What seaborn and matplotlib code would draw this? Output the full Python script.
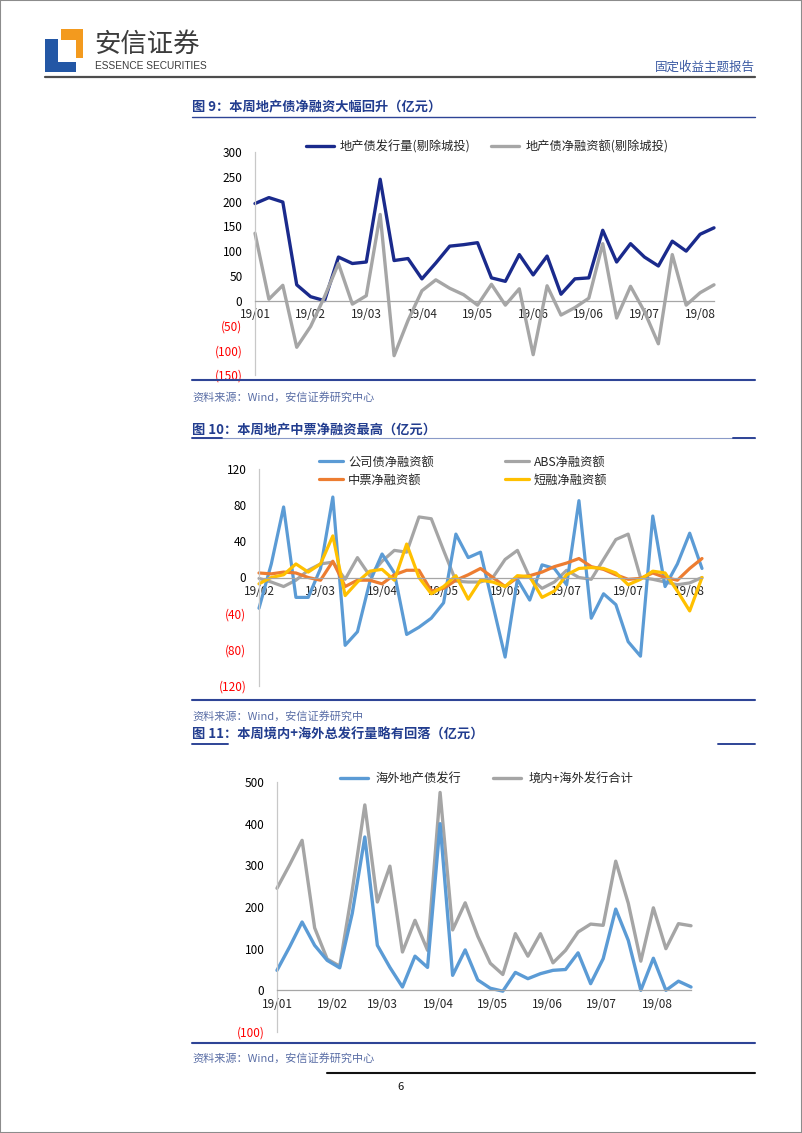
import numpy as np
import pandas as pd
import seaborn as sns
import matplotlib.pyplot as plt
import matplotlib.dates as mdates
from matplotlib.lines import Line2D
from matplotlib.patches import Rectangle
from matplotlib.ticker import FuncFormatter

# ---- 图9 data (weekly, labels every 4 weeks)
c1_ticks = ['19/01', '19/02', '19/03', '19/04', '19/05', '19/06', '19/06', '19/07', '19/08']
c1_issue = [196, 208, 199, 32, 8, 0, 88, 75, 78, 245, 81, 85, 44, 76, 110, 113, 117,
            46, 39, 93, 52, 90, 13, 44, 46, 142, 78, 115, 88, 70, 120, 100, 134, 147]
c1_net = [136, 3, 31, -94, -52, 8, 75, -7, 10, 174, -111, -40, 20, 42, 25, 12, -9,
          33, -9, 24, -109, 30, -29, -14, 5, 115, -35, 29, -22, -87, 93, -9, 16, 32]

# ---- 图10 data (weekly, labels every 5 weeks)
c2_ticks = ['19/02', '19/03', '19/04', '19/05', '19/06', '19/07', '19/07', '19/08']
c2_corp = [-34, 15, 78, -22, -22, 10, 89, -75, -60, -5, 26, 5, -63, -55, -45, -28, 48, 22, 28,
           -30, -88, -2, -25, 14, 10, -8, 85, -45, -18, -30, -71, -87, 68, -10, 15, 49, 10]
c2_abs = [-1, -5, -10, -3, 8, 15, 17, -2, 22, 2, 18, 30, 28, 67, 65, 30, -4, -5, -5,
          0, 20, 30, 0, -12, -5, 8, 0, -2, 20, 42, 48, 0, -2, -5, -8, -6, 0]
c2_mtn = [5, 4, 6, 5, 0, -3, 18, -10, -3, -3, -7, 3, 8, 8, -15, -12, -3, 3, 10,
          0, -10, 0, 2, 6, 12, 16, 21, 12, 9, 3, -2, -1, 5, 0, -3, 10, 21]
c2_cp = [-7, 0, 3, 15, 6, 15, 46, -20, -5, 7, 9, -3, 37, 0, -18, -10, 2, -24, -3,
         -5, -10, 2, 1, -22, -15, 3, 10, 11, 10, 5, -8, -2, 7, 5, -15, -37, 0]

# ---- 图11 data (weekly dates, monthly axis)
c3_start = '2019-01-01'
c3_overseas = [48, 104, 164, 108, 72, 54, 185, 368, 108, 55, 8, 82, 55, 400, 36, 97, 25,
               5, -2, 43, 28, 40, 48, 50, 90, 16, 76, 195, 120, 0, 77, 0, 22, 8]
c3_total = [245, 301, 360, 150, 75, 58, 240, 445, 212, 298, 92, 168, 96, 475, 145, 210, 130,
            65, 38, 136, 82, 136, 66, 96, 140, 159, 156, 310, 209, 70, 198, 100, 160, 155]

W, H = 802, 1133
TITLE_BLUE = '#223d8f'
RULE_BLUE = '#2e4496'
SRC_BLUE = '#5a6ea6'

sns.set_style('white')
plt.rcParams['font.family'] = ['Noto Sans CJK SC', 'DejaVu Sans']
plt.rcParams['axes.unicode_minus'] = False


def box(l, t, r, b):
    return [l / W, 1 - b / H, (r - l) / W, (b - t) / H]


def hline(fig, y, x0, x1, color, lw):
    fig.add_artist(Line2D([x0 / W, x1 / W], [1 - y / H, 1 - y / H], color=color, lw=lw))


def text(fig, x, y, s, **kw):
    fig.text(x / W, 1 - y / H, s, va='center', **kw)


def paren(v, pos):
    return f'({abs(v):.0f})' if v < 0 else f'{v:.0f}'


def style_axes(ax, yticks):
    ax.set_ylim(yticks[0], yticks[-1])
    ax.set_yticks(yticks)
    ax.yaxis.set_major_formatter(FuncFormatter(paren))
    for t, v in zip(ax.yaxis.get_major_ticks(), yticks):
        t.label1.set_color('#ff0000' if v < 0 else '#000000')
    for s in ['top', 'right']:
        ax.spines[s].set_visible(False)
    ax.spines['bottom'].set_position(('data', 0))
    ax.spines['bottom'].set_color('#a6a6a6')
    ax.spines['left'].set_color('#c8c8c8')
    ax.spines['bottom'].set_linewidth(0.9)
    ax.spines['left'].set_linewidth(0.9)
    ax.tick_params(axis='y', length=3, width=0.8, color='#c8c8c8', labelsize=8.5, pad=6)
    ax.tick_params(axis='x', length=3, width=0.8, color='#a6a6a6', labelsize=8.5, pad=2.5)
    ax.set_xlabel('')
    ax.set_ylabel('')
    ax.set_facecolor('none')


def draw(ax, x, y, color, label, lw=2.3):
    sns.lineplot(x=x, y=y, ax=ax, color=color, linewidth=lw, label=label,
                 clip_on=False, solid_joinstyle='round')


fig = plt.figure(figsize=(W / 100, H / 100), dpi=100)

# page frame and header
fig.add_artist(Rectangle((0, 0), 1, 1, transform=fig.transFigure, fill=False,
                         edgecolor='#8c8c8c', lw=1.5))
logo_blue, logo_orange = '#2357a5', '#f39a1e'
for l, t, r, b, c in [(61, 29, 83, 40, logo_orange), (76, 29, 83, 58, logo_orange),
                      (45, 39, 58, 72, logo_blue), (45, 62, 76, 72, logo_blue)]:
    fig.add_artist(Rectangle((l / W, 1 - b / H), (r - l) / W, (b - t) / H,
                             transform=fig.transFigure, color=c, lw=0))
text(fig, 94, 44, '安信证券', fontsize=19, color='#3c3c3c')
text(fig, 95, 66, 'ESSENCE SECURITIES', fontsize=7.3,
     family=['Liberation Sans Narrow', 'Liberation Sans', 'DejaVu Sans'], color='#3c3c3c')
text(fig, 755, 67, '固定收益主题报告', fontsize=9, color='#3b5aa3', ha='right')
hline(fig, 77, 45, 755, '#4d4d4d', 1.6)

title_kw = dict(fontsize=9.5, color=TITLE_BLUE, fontweight='bold')
src_kw = dict(fontsize=8, color=SRC_BLUE)
leg_kw = dict(loc='center', bbox_transform=fig.transFigure, ncol=2, frameon=False,
              fontsize=8.8, borderpad=0)

# ---------------- 图9
text(fig, 192, 107, '图 9：本周地产债净融资大幅回升（亿元）', **title_kw)
hline(fig, 117, 192, 755, RULE_BLUE, 1.0)
ax1 = fig.add_axes(box(255, 152, 714, 375))
x1 = np.arange(len(c1_issue))
draw(ax1, x1, c1_issue, '#1a2a8c', '地产债发行量(剔除城投)', lw=2.4)
draw(ax1, x1, c1_net, '#a6a6a6', '地产债净融资额(剔除城投)', lw=2.4)
ax1.set_xlim(0, len(x1) - 1)
ax1.set_xticks(x1[::4])
ax1.set_xticklabels(c1_ticks)
style_axes(ax1, [-150, -100, -50, 0, 50, 100, 150, 200, 250, 300])
ax1.legend(bbox_to_anchor=(487 / W, 1 - 147 / H), handlelength=2.3, handletextpad=0.5,
           columnspacing=1.7, **leg_kw)
hline(fig, 380, 192, 755, RULE_BLUE, 1.5)
text(fig, 192, 397, '资料来源：Wind，安信证券研究中心', **src_kw)

# ---------------- 图10
text(fig, 192, 430, '图 10：本周地产中票净融资最高（亿元）', **title_kw)
hline(fig, 438, 192, 755, '#8a9ac8', 0.8)
hline(fig, 438, 192, 222, RULE_BLUE, 1.4)
hline(fig, 438, 733, 755, RULE_BLUE, 1.4)
ax2 = fig.add_axes(box(259, 469, 702, 686))
x2 = np.arange(len(c2_corp))
draw(ax2, x2, c2_abs, '#a5a5a5', 'ABS净融资额')
draw(ax2, x2, c2_corp, '#5b9bd5', '公司债净融资额')
draw(ax2, x2, c2_mtn, '#ed7d31', '中票净融资额')
draw(ax2, x2, c2_cp, '#ffc000', '短融净融资额')
ax2.set_xlim(0, len(x2) - 1)
ax2.set_xticks(x2[::5])
ax2.set_xticklabels(c2_ticks)
style_axes(ax2, [-120, -80, -40, 0, 40, 80, 120])
h, lab = ax2.get_legend_handles_labels()
order = [lab.index(n) for n in ['公司债净融资额', '中票净融资额', 'ABS净融资额', '短融净融资额']]
ax2.legend([h[i] for i in order], [lab[i] for i in order],
           bbox_to_anchor=(463 / W, 1 - 471 / H), handlelength=2.0, handletextpad=0.4,
           columnspacing=5.8, labelspacing=0.4, **leg_kw)
hline(fig, 700, 192, 755, RULE_BLUE, 1.5)
text(fig, 192, 716, '资料来源：Wind，安信证券研究中', **src_kw)

# ---------------- 图11
text(fig, 192, 735, '图 11：本周境内+海外总发行量略有回落（亿元）', **title_kw)
hline(fig, 744, 192, 228, RULE_BLUE, 1.4)
hline(fig, 744, 718, 755, RULE_BLUE, 1.4)
ax3 = fig.add_axes(box(277, 782, 691, 1032))
d3 = pd.date_range(c3_start, periods=len(c3_total), freq='7D')
draw(ax3, d3, c3_total, '#a5a5a5', '境内+海外发行合计', lw=2.4)
draw(ax3, d3, c3_overseas, '#5b9bd5', '海外地产债发行', lw=2.4)
ax3.set_xlim(d3[0], d3[-1])
ax3.xaxis.set_major_locator(mdates.MonthLocator())
ax3.xaxis.set_major_formatter(mdates.DateFormatter('%y/%m'))
style_axes(ax3, [-100, 0, 100, 200, 300, 400, 500])
h, lab = ax3.get_legend_handles_labels()
ax3.legend(h[::-1], lab[::-1], bbox_to_anchor=(487 / W, 1 - 779 / H), handlelength=2.3,
           handletextpad=0.6, columnspacing=2.6, **leg_kw)
hline(fig, 1043, 192, 755, RULE_BLUE, 1.5)
text(fig, 192, 1058, '资料来源：Wind，安信证券研究中心', **src_kw)

# footer
hline(fig, 1073, 327, 755, '#111111', 1.5)
text(fig, 400, 1087, '6', fontsize=8, color='#111111', ha='center')

fig.savefig('out.png', dpi=100, facecolor='white')
